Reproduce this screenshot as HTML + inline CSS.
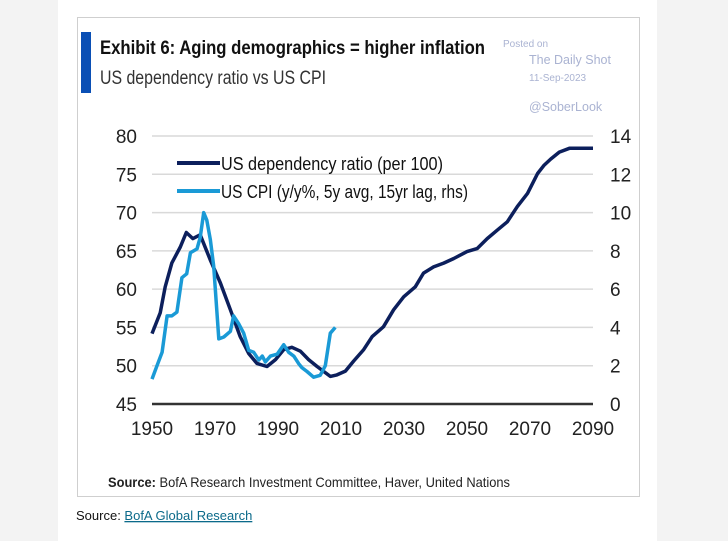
<!DOCTYPE html>
<html><head><meta charset="utf-8"><style>
body{margin:0;background:#fff}
#wrap{position:relative;width:728px;height:541px;background:#f3f3f3;overflow:hidden;font-family:"Liberation Sans",sans-serif}
#page{position:absolute;left:58px;top:0;width:599px;height:541px;background:#fff}
</style></head><body>
<div id="wrap">
<div id="page"></div>
<svg id="svg" width="728" height="541" style="position:absolute;left:0;top:0">
<rect x="77.5" y="17.5" width="562" height="479" fill="#fff" stroke="#cfcfcf"/>
<rect x="81" y="32" width="10" height="61" fill="#0a4fb5"/>
<text x="100" y="54" font-size="19" font-weight="bold" fill="#111" textLength="385" lengthAdjust="spacingAndGlyphs">Exhibit 6: Aging demographics = higher inflation</text>
<text x="100" y="84" font-size="19" fill="#333" textLength="226" lengthAdjust="spacingAndGlyphs">US dependency ratio vs US CPI</text>
<g fill="#aab3d2">
<text x="503" y="47" font-size="10">Posted on</text>
<text x="529" y="64" font-size="12.5">The Daily Shot</text>
<text x="529" y="81" font-size="10">11-Sep-2023</text>
<text x="529" y="111" font-size="12.5">@SoberLook</text>
</g>
<g id="grid"></g><g id="axes"></g><g id="series"></g>
<g>
<line x1="177" y1="163" x2="220" y2="163" stroke="#0c1f5c" stroke-width="4"/>
<text x="221" y="170" font-size="18" fill="#111" textLength="222" lengthAdjust="spacingAndGlyphs">US dependency ratio (per 100)</text>
<line x1="177" y1="191" x2="220" y2="191" stroke="#1a9ad6" stroke-width="4"/>
<text x="221" y="198" font-size="18" fill="#111" textLength="247" lengthAdjust="spacingAndGlyphs">US CPI (y/y%, 5y avg, 15yr lag, rhs)</text>
</g>
<text x="108" y="487" font-size="14" fill="#222" textLength="402" lengthAdjust="spacingAndGlyphs"><tspan font-weight="bold">Source:</tspan> BofA Research Investment Committee, Haver, United Nations</text>
<text x="76" y="520" font-size="13" fill="#111">Source: <tspan fill="#0b6a8a" text-decoration="underline">BofA Global Research</tspan></text>
</svg>
</div>
<script>
const depYears=[1950,1952.6,1954.2,1956.3,1959,1960.9,1963,1965.3,1968.5,1971.7,1974.9,1978,1980.7,1983.3,1986.5,1989.2,1991.8,1994.4,1997.1,1999.7,2002.4,2006.6,2008.7,2011.4,2014,2017.2,2019.9,2023.5,2026.7,2029.9,2033.6,2036.2,2039.4,2042.6,2045.8,2050,2053.2,2056.4,2059.6,2062.8,2066,2069.2,2072.4,2074.5,2076.6,2079.3,2082.5,2090];
const depValues=[54.2,56.9,60.3,63.4,65.5,67.4,66.6,67.1,63.8,60.8,57.3,53.8,51.6,50.3,49.9,50.8,52.1,52.4,51.9,50.8,49.9,48.6,48.8,49.3,50.6,52.1,53.8,55.1,57.3,59.0,60.3,62.1,62.9,63.4,64.0,64.9,65.3,66.6,67.7,68.8,70.8,72.5,75.1,76.2,77.0,77.9,78.4,78.4];
const cpiYears=[1950,1951.6,1953.2,1954.8,1956.3,1957.9,1959.5,1961,1962.2,1964.3,1965.3,1966.4,1967.4,1968.5,1969.6,1971.2,1972.8,1974.9,1975.9,1977.5,1979.1,1980.7,1982.3,1983.9,1985,1986,1987.6,1989.7,1991.8,1993.4,1995,1996.6,1997.6,1999.2,2001.3,2003.4,2005,2006.6,2008.2];
const cpiValues=[1.3,2.0,2.7,4.6,4.6,4.8,6.6,6.8,7.9,8.1,8.7,10.0,9.6,8.6,7.2,3.4,3.5,3.8,4.6,4.2,3.7,2.8,2.7,2.3,2.5,2.2,2.5,2.6,3.1,2.7,2.5,2.1,1.9,1.7,1.4,1.5,2.0,3.7,4.0];
const leftTicks=[45,50,55,60,65,70,75,80];
const rightTicks=[0,2,4,6,8,10,12,14];
const xTicks=[1950,1970,1990,2010,2030,2050,2070,2090];
const X=y=>152+(y-1950)/140*441;
const YL=v=>404-(v-45)/35*268;
const YR=v=>404-v/14*268;
const NS="http://www.w3.org/2000/svg";
function mk(tag,parent){const e=document.createElementNS(NS,tag);document.getElementById(parent).appendChild(e);return e;}
leftTicks.forEach(t=>{
 const l=mk('line','grid');
 
 
 l.setAttribute('x1',152);l.setAttribute('x2',593);l.setAttribute('y1',YL(t));l.setAttribute('y2',YL(t));
 l.setAttribute('stroke',t===45?'#333':'#d9d9d9');l.setAttribute('stroke-width',t===45?2.5:1.5);
 const s=mk('text','axes');
 
 
 s.setAttribute('x',137);s.setAttribute('y',YL(t)+7);s.setAttribute('text-anchor','end');s.setAttribute('font-size','19');s.setAttribute('fill','#222');s.textContent=t;
});
rightTicks.forEach(t=>{
 const s=mk('text','axes');
 
 
 s.setAttribute('x',610);s.setAttribute('y',YR(t)+7);s.setAttribute('font-size','19');s.setAttribute('fill','#222');s.textContent=t;
});
xTicks.forEach(t=>{
 const s=mk('text','axes');
 
 
 s.setAttribute('x',X(t));s.setAttribute('y',435);s.setAttribute('text-anchor','middle');s.setAttribute('font-size','19');s.setAttribute('fill','#222');s.textContent=t;
});
function line(xs,vs,yf,color,name){
 const p=mk('path','series');
 
 
 p.setAttribute('d',xs.map((x,i)=>(i?'L':'M')+X(x).toFixed(1)+','+yf(vs[i]).toFixed(1)).join(''));
 p.setAttribute('fill','none');p.setAttribute('stroke',color);p.setAttribute('stroke-width',3.5);p.setAttribute('stroke-linejoin','round');
}
line(depYears,depValues,YL,'#0c1f5c','dependency-ratio-line');
line(cpiYears,cpiValues,YR,'#1a9ad6','cpi-line');
</script>
</body></html>
